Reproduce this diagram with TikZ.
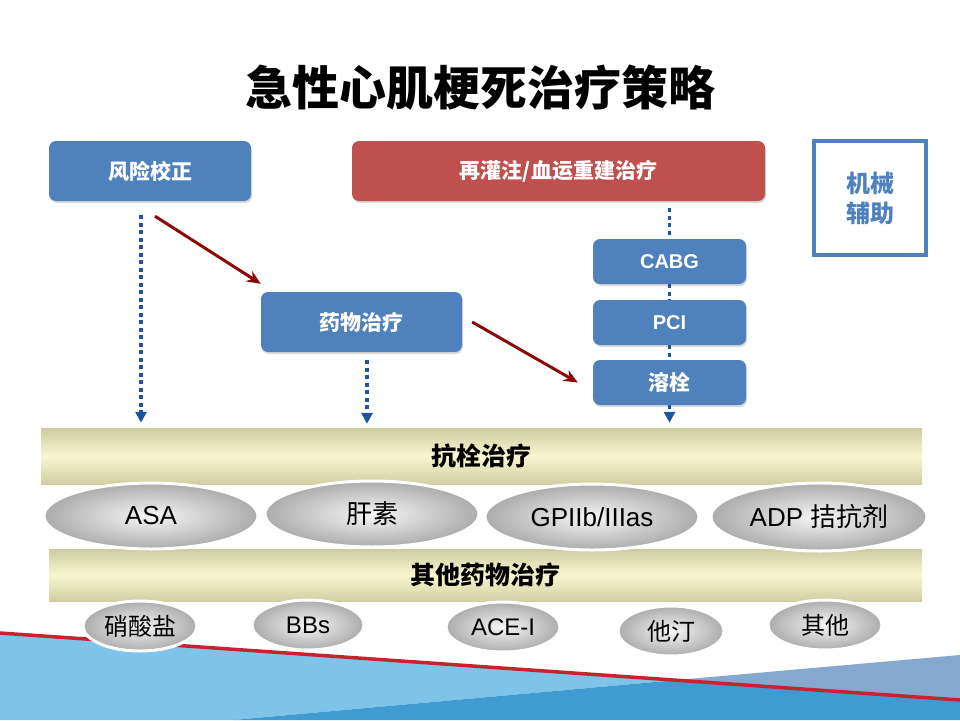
\documentclass[tikz,border=0pt]{standalone}
\usepackage{fontspec}
\setmainfont{Liberation Sans}
\newfontfamily\cjk{Noto Sans CJK SC}
\usetikzlibrary{arrows.meta,shapes.geometric,shadows}

\definecolor{boxblue}{RGB}{79,129,189}
\definecolor{boxred}{RGB}{192,80,77}
\definecolor{dotblue}{RGB}{28,86,156}
\definecolor{arrowred}{RGB}{140,8,8}
\definecolor{bandtop}{RGB}{205,203,160}
\definecolor{bandmid}{RGB}{248,247,208}
\definecolor{bandbot}{RGB}{208,206,162}
\definecolor{pillin}{RGB}{246,246,246}
\definecolor{pillout}{RGB}{172,172,172}
\definecolor{seablue}{RGB}{125,196,232}
\definecolor{deepblue}{RGB}{64,155,211}
\definecolor{greyblue}{RGB}{132,168,206}
\definecolor{stripe}{RGB}{200,35,45}

\newcommand\boxfont{\cjk\bfseries\fontsize{21}{25}\selectfont}
\newcommand\latinbox{\bfseries\fontsize{20}{24}\selectfont}
\newcommand\pillfont{\fontsize{26}{30}\selectfont}
\newcommand\smallpill{\fontsize{24}{28}\selectfont}

\tikzset{
  box/.style={rectangle, rounded corners=7pt, inner sep=0pt, text=white,
    drop shadow={shadow xshift=1pt, shadow yshift=-2pt, opacity=.3}},
  bluebox/.style={box, fill=boxblue},
  redbox/.style={box, fill=boxred},
  band/.style={rectangle, inner sep=0pt, top color=bandtop, bottom color=bandbot,
    middle color=bandmid, font=\cjk\bfseries\fontsize{25}{30}\selectfont},
  pill/.style={ellipse, inner sep=0pt, draw=white, line width=3pt,
    inner color=pillin, outer color=pillout},
  dots/.style={draw=dotblue, line width=3.5pt, dash pattern=on 4pt off 3.5pt},
  dotarrow/.style={dots, -{Triangle[length=11pt,width=11pt]}},
  redarrow/.style={draw=arrowred, line width=3pt, -{Stealth[length=14pt,width=12pt]}},
}

\begin{document}
\begin{tikzpicture}[x=1pt,y=-1pt]
\useasboundingbox (0,0) rectangle (960,720);
% bottom decoration
\fill[seablue] (0,633) -- (677,680) -- (233,720) -- (0,720) -- cycle;
\fill[greyblue] (677,680) -- (960,655) -- (960,700) -- cycle;
\fill[deepblue] (233,720) -- (677,680) -- (960,700) -- (960,720) -- cycle;
\draw[stripe, line width=3.5pt] (0,633) -- (960,700);

\node[font=\cjk\bfseries\fontsize{47}{56}\selectfont] (title) at (480,88) {急性心肌梗死治疗策略};

% top row
\node[bluebox, minimum width=202pt, minimum height=60pt, font=\boxfont] (risk) at (150,171) {风险校正};
\node[redbox, minimum width=413pt, minimum height=60pt, font=\boxfont] (reperf) at (558.5,171) {再灌注/血运重建治疗};
\node[draw=boxblue, line width=3.5pt, minimum width=112pt, minimum height=114pt, align=center,
  text=boxblue, font=\cjk\bfseries\fontsize{24}{30}\selectfont] (mech) at (870,198) {机械\\辅助};

\node[bluebox, minimum width=201pt, minimum height=60pt, font=\boxfont] (drug) at (361.5,322) {药物治疗};
\node[bluebox, minimum width=153pt, minimum height=45pt, font=\latinbox] (cabg) at (669.5,261.5) {CABG};
\node[bluebox, minimum width=153pt, minimum height=45pt, font=\latinbox] (pci) at (669.5,322.5) {PCI};
\node[bluebox, minimum width=153pt, minimum height=45pt, font=\boxfont] (lysis) at (669.5,382.5) {溶栓};

% bands
\node[band, minimum width=881pt, minimum height=56pt] (anti) at (481.5,456) {抗栓治疗};
\node[band, minimum width=873pt, minimum height=52pt] (other) at (485.5,575) {其他药物治疗};

% antithrombotics
\node[pill, minimum width=214pt, minimum height=66pt, font=\pillfont] (asa) at (151,516) {ASA};
\node[pill, minimum width=214pt, minimum height=66pt, font=\pillfont] (heparin) at (372,514) {\cjk 肝素};
\node[pill, minimum width=214pt, minimum height=66pt, font=\pillfont] (gp) at (592,517) {GPIIb/IIIas};
\node[pill, minimum width=216pt, minimum height=68pt, font=\pillfont] (adp) at (819,517) {ADP {\cjk 拮抗剂}};

% other drugs
\node[pill, minimum width=114pt, minimum height=50pt, font=\smallpill] (nitrate) at (140,626) {\cjk 硝酸盐};
\node[pill, minimum width=112pt, minimum height=50pt, font=\smallpill] (bbs) at (308,625) {BBs};
\node[pill, minimum width=114pt, minimum height=50pt, font=\smallpill] (acei) at (503,627) {ACE-I};
\node[pill, minimum width=106pt, minimum height=50pt, font=\smallpill] (statin) at (671,631) {\cjk 他汀};
\node[pill, minimum width=114pt, minimum height=50pt, font=\smallpill] (others) at (825,625) {\cjk 其他};

% connectors
\draw[dotarrow, shorten <=14pt, shorten >=5pt] ([xshift=-9pt]risk.south) -- ([xshift=-9pt]risk.south |- anti.north);
\draw[dotarrow, shorten <=8pt, shorten >=4pt] ([xshift=5.5pt]drug.south) -- ([xshift=5.5pt]drug.south |- anti.north);
\draw[dots, shorten <=7pt, shorten >=2pt] (reperf.south -| cabg.north) -- (cabg.north);
\draw[dots] (cabg.south) -- (pci.north);
\draw[dots] (pci.south) -- (lysis.north);
\draw[dotarrow, shorten >=5pt] (lysis.south) -- (lysis.south |- anti.north);
\draw[redarrow] ([xshift=5pt,yshift=-15pt]risk.south) -- ([yshift=8pt]drug.north west);
\draw[redarrow] ([xshift=10pt]drug.east) -- ([xshift=-15pt]lysis.west);
\end{tikzpicture}
\end{document}
